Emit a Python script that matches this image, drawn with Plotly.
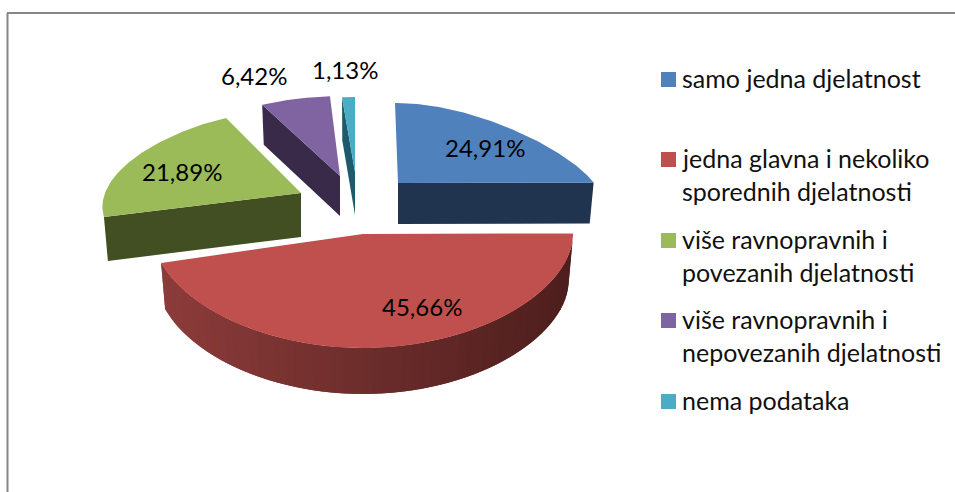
import numpy as np
import plotly.graph_objects as go

# ---- data ----
categories = [["samo jedna djelatnost"],
              ["jedna glavna i nekoliko", "sporednih djelatnosti"],
              ["više ravnopravnih i", "povezanih djelatnosti"],
              ["više ravnopravnih i", "nepovezanih djelatnosti"],
              ["nema podataka"]]
values = [24.91, 45.66, 21.89, 6.42, 1.13]
value_labels = ["24,91%", "45,66%", "21,89%", "6,42%", "1,13%"]

# ---- style / geometry (drawn in a 955x492 coordinate system) ----
top_colors = ["#4f81bd", "#c0504d", "#9bbb59", "#8064a2", "#4bacc6"]
side_colors = ["#20344f", "#6e2d2b", "#414f23", "#392a4a", "#1e5a6c"]
# per slice: centre x, centre y, rx, ry, taper k, skew s, ry warp m, depth
geom = [(398, 183, 196, 80, 0.30, 3, 0, 41),
        (363, 234, 210, 101.6, 0, 0, 0.122, 46),
        (301, 193, 196, 86.4, 0.15, -3, 0.026, 44),
        (340, 176, 175, 80, 0, -2.4, 0, 40),
        (355, 172, 183, 75, 0, 0, 0, 43)]
label_pos = [(485, 147), (422, 306), (182, 171), (254, 75), (345, 69)]
legend_x = 668.5
legend_y = [[79.5], [159.5, 192.5], [240.5, 273.5], [320.5, 353.5], [401.5]]
FONT = "Lato, Carlito, sans-serif"

def proj(g, th, r=1.0, drop=False):
    cx, cy, rx, ry, k, s, m, d = g
    u = -np.cos(th) * r
    v = np.sin(th) * r
    x = rx * v * (1 + k * u) + s * u
    y = ry * u * (1 + m * u)
    if drop:
        return cx + x * 0.98, cy + y + d
    return cx + x, cy + y

fig = go.Figure()
def poly(xs, ys, color):
    fig.add_trace(go.Scatter(x=list(xs), y=list(ys), mode="lines", fill="toself",
                             fillcolor=color, line=dict(width=0),
                             showlegend=False, hoverinfo="skip"))

edges = np.cumsum([0] + values) / sum(values) * 2 * np.pi
for i, g in enumerate(geom):
    a, b = edges[i], edges[i + 1]
    ths = np.linspace(a, b, 90)
    if i != 1:
        e = b if i == 0 else a
        p0 = proj(g, e, 0.0); p1 = proj(g, e, 1.0)
        q1 = proj(g, e, 1.0, True); q0 = proj(g, e, 0.0, True)
        poly([p0[0], p1[0], q1[0], q0[0], p0[0]], [p0[1], p1[1], q1[1], q0[1], p0[1]], side_colors[i])
    else:
        # outer wall of the big slice with its shading, dark on the right
        steps = np.linspace(a, b, 61)
        c0 = np.array([0x4e, 0x1f, 0x1e]); c1 = np.array([0x8e, 0x3d, 0x3b])
        for j in range(len(steps) - 1):
            t0, t1 = steps[j], steps[min(j + 2, len(steps) - 1)]
            f = (proj(g, steps[j])[0] - (g[0] - g[2])) / (2 * g[2])
            c = c1 + (c0 - c1) * f
            col = "rgb(%d,%d,%d)" % tuple(c)
            A = proj(g, t0); B = proj(g, t1); C = proj(g, t1, 1, True); D = proj(g, t0, 1, True)
            poly([A[0], B[0], C[0], D[0], A[0]], [A[1], B[1], C[1], D[1], A[1]], col)
    pts = [proj(g, t) for t in ths]
    xs = [g[0]] + [p[0] for p in pts] + [g[0]]
    ys = [g[1]] + [p[1] for p in pts] + [g[1]]
    poly(xs, ys, top_colors[i])

# legend block
for lines, ys, color in zip(categories, legend_y, top_colors):
    fig.add_trace(go.Scatter(x=[legend_x], y=[ys[0]], mode="markers", name=" ".join(lines), showlegend=False,
                             marker=dict(symbol="square", size=15, color=color, line=dict(width=0))))
    for line, y in zip(lines, ys):
        fig.add_annotation(x=682, y=y - 2, text=line, showarrow=False, xanchor="left", yanchor="middle",
                           xshift=-2, font=dict(family=FONT, size=25, color="#111111"))

for (x, y), t in zip(label_pos, value_labels):
    fig.add_annotation(x=x, y=y, text=t, showarrow=False, xanchor="center", yanchor="middle",
                       font=dict(family=FONT, size=24, color="#000000"))

fig.add_shape(type="line", x0=7.5, x1=7.5, y0=492, y1=13, line=dict(color="#868686", width=2))
fig.add_shape(type="line", x0=7, x1=955, y0=13, y1=13, line=dict(color="#868686", width=2))

fig.update_layout(
    width=955, height=492, margin=dict(l=0, r=0, t=0, b=0), paper_bgcolor="white", plot_bgcolor="white",
    xaxis=dict(range=[0, 955], visible=False, fixedrange=True),
    yaxis=dict(range=[492, 0], visible=False, fixedrange=True),
    showlegend=False,
)
fig.write_html("out.html", config=dict(displayModeBar=False),
               post_script="document.body.style.margin='0';document.body.style.overflow='hidden';")
